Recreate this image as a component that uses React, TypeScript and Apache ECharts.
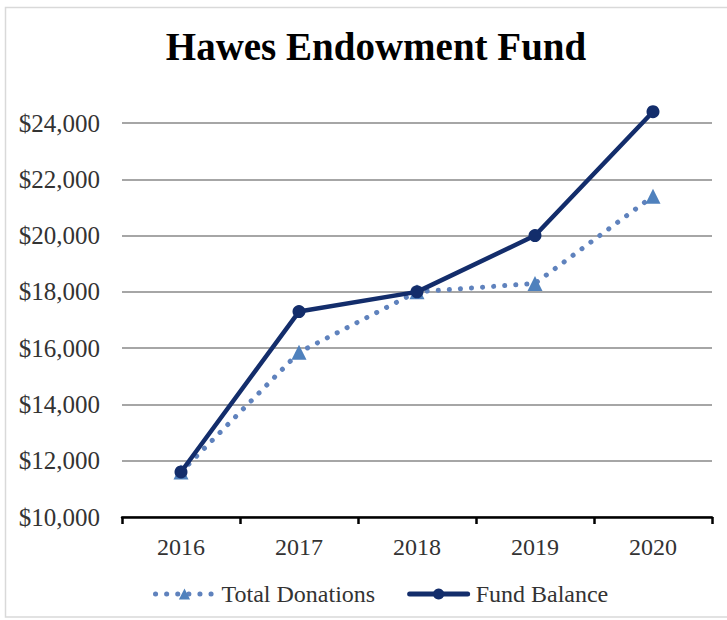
import React, { useEffect, useRef } from "react";
import * as echarts from "echarts";

const categories = ["2016", "2017", "2018", "2019", "2020"];
const totalDonations = [11600, 15850, 18000, 18300, 21400];
const fundBalance = [11600, 17300, 18000, 20000, 24400];
const yMin = 10000;
const yMax = 24000;
const yStep = 2000;

const SERIF = "'Liberation Serif', 'Times New Roman', serif";
const NAVY = "#132d6b";
const LIGHT = "#4f81bd";
const LIGHT_LINE = "#5f82bd";
const DOTS = [0.1, 11];

export default function App() {
  const ref = useRef<HTMLDivElement>(null);
  useEffect(() => {
    if (!ref.current) return;
    const chart = echarts.init(ref.current, null, { renderer: "svg" });
    chart.setOption({
      animation: false,
      backgroundColor: "#ffffff",
      title: {
        text: "Hawes Endowment Fund",
        left: 371,
        textAlign: "center",
        top: 22,
        textStyle: { fontFamily: SERIF, fontSize: 39, fontWeight: "bold", color: "#000000" },
      },
      graphic: [
        {
          type: "rect",
          shape: { x: 5.5, y: 7.5, width: 730, height: 609.5 },
          style: { fill: "none", stroke: "#d9d9d9", lineWidth: 1.5 },
          silent: true,
        },
      ],
      legend: {
        left: 148,
        top: 577,
        itemWidth: 58,
        itemHeight: 14,
        itemGap: 32,
        textStyle: { fontFamily: SERIF, fontSize: 24, color: "#333333", padding: [0, 0, 0, 3] },
        data: [
          {
            name: "Total Donations",
            lineStyle: { color: LIGHT_LINE, width: 5, type: DOTS, cap: "round" },
            itemStyle: { color: LIGHT },
          },
          {
            name: "Fund Balance",
            lineStyle: { color: NAVY, width: 5, cap: "round" },
            itemStyle: { color: NAVY },
          },
        ],
      },
      grid: { left: 122, right: 15, top: 123, bottom: 103 },
      xAxis: {
        type: "category",
        data: categories,
        boundaryGap: true,
        axisLine: { lineStyle: { color: "#000000", width: 2.5 } },
        axisTick: { show: true, length: 7, lineStyle: { color: "#000000", width: 2.5 } },
        axisLabel: { fontFamily: SERIF, fontSize: 24, color: "#333333", margin: 18 },
        splitLine: { show: false },
      },
      yAxis: {
        type: "value",
        min: yMin,
        max: yMax,
        interval: yStep,
        axisLine: { show: false },
        axisTick: { show: false },
        axisLabel: {
          fontFamily: SERIF,
          fontSize: 25,
          color: "#333333",
          margin: 22,
          formatter: (v: number) => "$" + v.toLocaleString("en-US"),
        },
        splitLine: { lineStyle: { color: "#a6a6a6", width: 2 } },
      },
      series: [
        {
          name: "Total Donations",
          type: "line",
          data: totalDonations,
          clip: false,
          symbol: "triangle",
          symbolSize: 15,
          itemStyle: { color: LIGHT },
          lineStyle: { color: LIGHT_LINE, width: 5, type: DOTS, cap: "round" },
          z: 2,
        },
        {
          name: "Fund Balance",
          type: "line",
          data: fundBalance,
          clip: false,
          symbol: "circle",
          symbolSize: 13,
          itemStyle: { color: NAVY },
          lineStyle: { color: NAVY, width: 4.5 },
          z: 3,
        },
      ],
    });
    return () => chart.dispose();
  }, []);
  return (
    <div
      ref={ref}
      style={{ position: "fixed", left: 0, top: 0, width: 727, height: 620 }}
    />
  );
}
